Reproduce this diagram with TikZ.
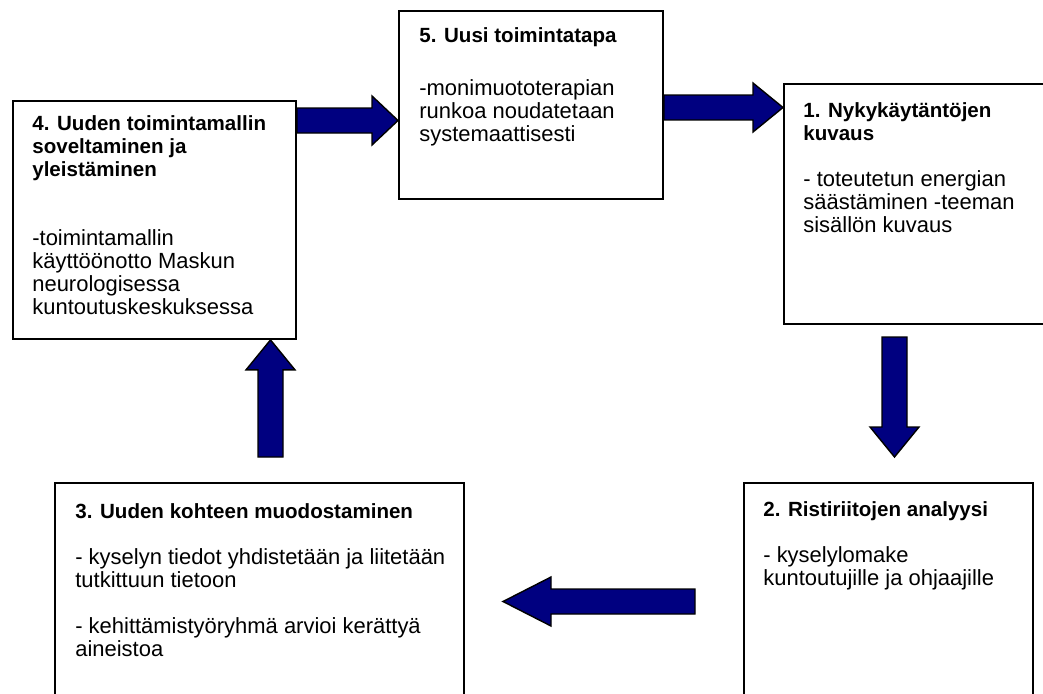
\documentclass[tikz,border=0pt]{standalone}
\usepackage{fontspec}
\setmainfont{Liberation Sans}
\usetikzlibrary{calc}
\definecolor{navyblue}{RGB}{0,0,128}
% one block arrow from #2 to the tip #3, head length #1
\newcommand{\blockarrow}[3][0.6cm]{%
  \coordinate (hb) at ($(#3)!#1!(#2)$);
  \filldraw[blockarr] ($(#2)!0.25cm!90:(#3)$) -- ($(hb)!0.25cm!-90:(#2)$) -- ($(hb)!0.49cm!-90:(#2)$) -- (#3) -- ($(hb)!0.49cm!90:(#2)$) -- ($(hb)!0.25cm!90:(#2)$) -- ($(#2)!0.25cm!-90:(#3)$) -- cycle;}
\newcommand{\ts}{\rule{0pt}{9pt}}
\newcommand{\ttl}[1]{{\fontsize{11.7}{13.1}\selectfont\bfseries #1}}
\begin{document}
\begin{tikzpicture}[x=0.02cm,y=-0.02cm,
  box/.style={draw=black,line width=1.1pt,anchor=north west,inner sep=0pt},
  txt/.style={anchor=north west,inner sep=0pt,align=left,font=\fontsize{12.5}{13.1}\selectfont},
  blockarr/.style={fill=navyblue,draw=black,line width=0.8pt,line join=miter}]
\useasboundingbox (0,0) rectangle (1043,693);
\node[box,minimum width=5.66cm,minimum height=4.76cm] (b4) at (12,100) {};
\node[box,minimum width=5.28cm,minimum height=3.76cm] (b5) at (398,10) {};
\node[box,minimum width=5.34cm,minimum height=4.8cm] (b1) at (783,83) {};
\node[box,minimum width=5.78cm,minimum height=4.36cm] (b2) at (743,482) {};
\node[box,minimum width=8.18cm,minimum height=4.36cm] (b3) at (54,482) {};
% texts
\node[txt] (t4) at (32,114) {\ts\ttl{4. Uuden toimintamallin}\\\ttl{soveltaminen ja}\\\ttl{yleistäminen}\\[26.2pt]-toimintamallin\\käyttöönotto Maskun\\neurologisessa\\kuntoutuskeskuksessa};
\node[txt] (t5) at (419,26) {\ts\ttl{5. Uusi toimintatapa}\\[17pt]-monimuototerapian\\runkoa noudatetaan\\systemaattisesti};
\node[txt] (t1) at (803,101) {\ts\ttl{1. Nykykäytäntöjen}\\\ttl{kuvaus}\\[13.1pt]- toteutetun energian\\säästäminen -teeman\\sisällön kuvaus};
\node[txt] (t2) at (763,500) {\ts\ttl{2. Ristiriitojen analyysi}\\[13.1pt]- kyselylomake\\kuntoutujille ja ohjaajille};
\node[txt] (t3) at (75,502) {\ts\ttl{3. Uuden kohteen muodostaminen}\\[13.1pt]- kyselyn tiedot yhdistetään ja liitetään\\tutkittuun tietoon\\[13.1pt]- kehittämistyöryhmä arvioi kerättyä\\aineistoa};
% arrows
\coordinate (a4s) at (b4.east |- 0,120.5);
\coordinate (a4t) at (b5.west |- 0,120.5);
\coordinate (a5s) at (b5.east |- 0,107.5);
\coordinate (a5t) at (b1.west |- 0,107.5);
\coordinate (a1s) at (894.5,337);
\coordinate (a1t) at (894.5,457);
\coordinate (a2s) at (695,601.5);
\coordinate (a2t) at (503,601.5);
\coordinate (a3s) at (270.5,457);
\coordinate (a3t) at (b4.south -| 270.5,0);
\blockarrow[0.52cm]{a4s}{a4t}
\blockarrow{a5s}{a5t}
\blockarrow{a1s}{a1t}
\blockarrow[0.96cm]{a2s}{a2t}
\blockarrow{a3s}{a3t}
\end{tikzpicture}
\end{document}
